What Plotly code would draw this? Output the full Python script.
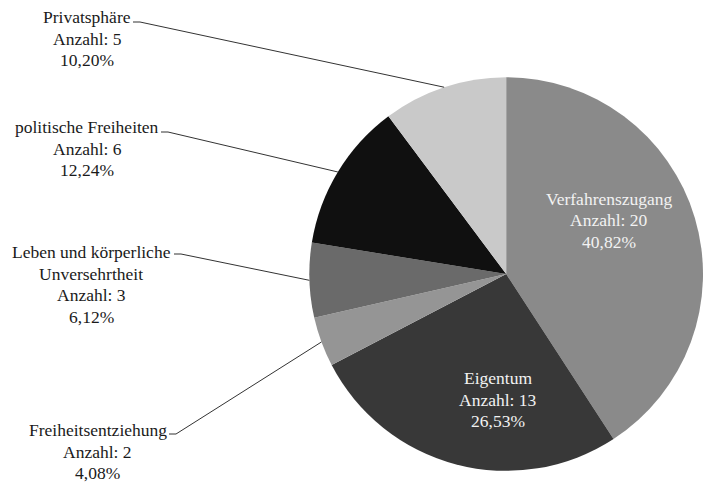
import math
import plotly.graph_objects as go

# ---- data ----
categories = ["Verfahrenszugang", "Eigentum", "Freiheitsentziehung",
              "Leben und körperliche|Unversehrtheit", "politische Freiheiten", "Privatsphäre"]
counts = [20, 13, 2, 3, 6, 5]
colors = ["#8a8a8a", "#383838", "#959595", "#6a6a6a", "#101010", "#c9c9c9"]

W, H = 703, 482
FONT = "Liberation Serif, Times New Roman, DejaVu Serif, serif"
FS = 17.5
LH = 21.7  # line spacing in px

# pie domain (paper)
dom_x = [0.44, 1.0]
dom_y = [0.0228, 0.8402]
cx = (dom_x[0] + dom_x[1]) / 2 * W
cy = (1 - (dom_y[0] + dom_y[1]) / 2) * H
R = min((dom_x[1] - dom_x[0]) * W, (dom_y[1] - dom_y[0]) * H) / 2

total = sum(counts)

def pct(v):
    return f"{v / total * 100:.2f}".replace(".", ",") + "%"

fig = go.Figure(go.Pie(
    labels=[c.replace("|", " ") for c in categories],
    values=counts,
    sort=False,
    direction="clockwise",
    rotation=0,
    marker=dict(colors=colors, line=dict(width=0)),
    textinfo="none",
    hoverinfo="label+value+percent",
    domain=dict(x=dom_x, y=dom_y),
    showlegend=False,
))

def px2paper(x, y):
    return x / W, 1 - y / H

annotations = []
shapes = []

def add_lines(lines, x, y_first, color):
    for k, line in enumerate(lines):
        px, py = px2paper(x, y_first + k * LH)
        annotations.append(dict(x=px, y=py, xref="paper", yref="paper", text=line,
                                showarrow=False, font=dict(family=FONT, size=FS, color=color),
                                xanchor="center", yanchor="middle", borderpad=0))

# inside labels: (fraction of radius, angle offset from slice mid in degrees)
inside = {0: (0.59, -11), 1: (0.64, -11)}
# outside labels: (block center x px, first line center y px, leader start x, leader start y)
outside = {
    5: (87, 17, 133, 22),
    4: (87, 127, 161, 132),
    3: (91, 252, 174, 254),
    2: (97.5, 430, 169, 434),
}

cum = 0
for i, v in enumerate(counts):
    mid = (cum + v / 2) / total * 2 * math.pi
    cum += v
    lines = categories[i].split("|") + [f"Anzahl: {v}", pct(v)]
    if i in inside:
        f, dang = inside[i]
        a = mid + math.radians(dang)
        x = cx + f * R * math.sin(a)
        y = cy - f * R * math.cos(a)
        add_lines(lines, x, y - LH * (len(lines) - 1) / 2, "#f2f2f2")
    else:
        bx, fy, lx, ly = outside[i]
        add_lines(lines, bx, fy, "#1a1a1a")
        ex = cx + R * math.sin(mid)
        ey = cy - R * math.cos(mid)
        p0 = px2paper(lx, ly)
        p1 = px2paper(lx + 7, ly)
        p2 = px2paper(ex, ey)
        shapes.append(dict(type="path", xref="paper", yref="paper",
                           path=f"M {p0[0]},{p0[1]} L {p1[0]},{p1[1]} L {p2[0]},{p2[1]}",
                           line=dict(color="#333333", width=1)))

fig.update_layout(
    width=W, height=H,
    margin=dict(l=0, r=0, t=0, b=0),
    paper_bgcolor="white",
    plot_bgcolor="white",
    separators=",.",
    annotations=annotations,
    shapes=shapes,
    font=dict(family=FONT, size=FS),
)

fig.write_html("out.html", config={"displayModeBar": False},
               post_script="document.body.style.margin='0';")
